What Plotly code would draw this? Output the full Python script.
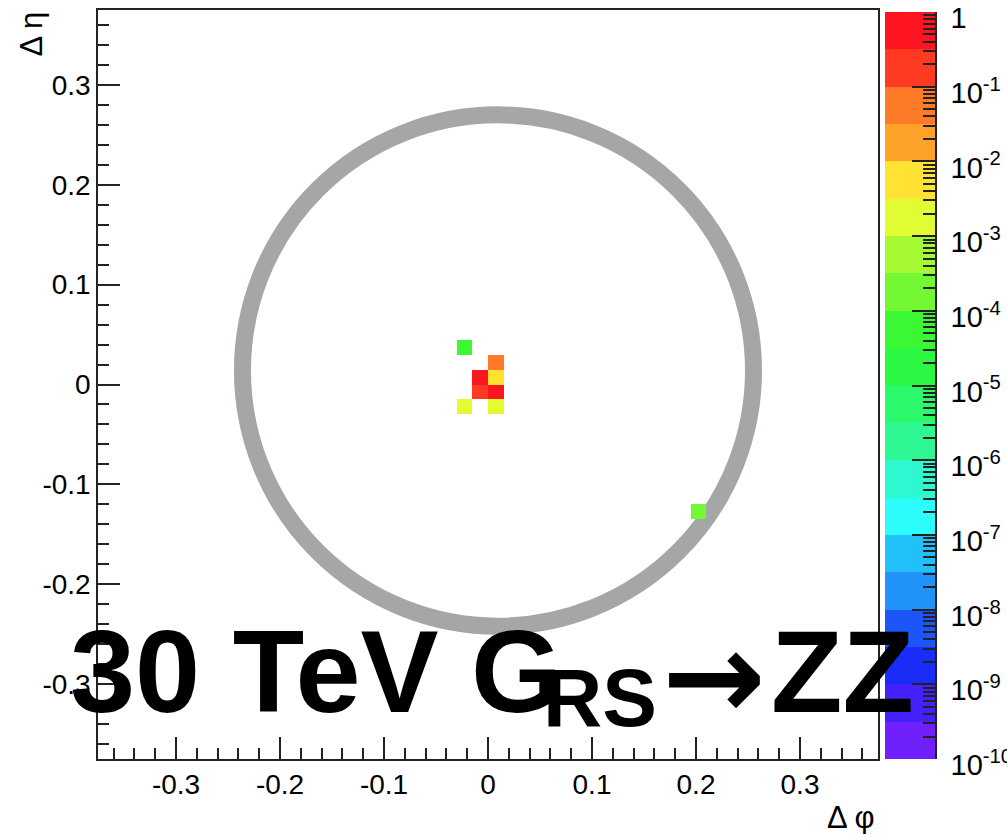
import numpy as np
import plotly.graph_objects as go

# --- histogram definition (Delta phi / Delta eta around the jet axis) ---
BIN_LO, BIN_HI, BIN_W = -0.375, 0.375, 0.015

# filled cells: bin centres and energy fraction
cell_dphi = [-0.0225, 0.0075, -0.0075, 0.0075, -0.0075, 0.0075, -0.0225, 0.0075, 0.2025]
cell_deta = [0.0375, 0.0225, 0.0075, 0.0075, -0.0075, -0.0075, -0.0225, -0.0225, -0.1275]
cell_frac = [6e-5, 0.05, 0.42, 0.006, 0.15, 0.36, 0.0018, 0.0015, 2e-4]

# axis ticks
axis_ticks = [-0.3, -0.2, -0.1, 0.0, 0.1, 0.2, 0.3]
axis_ticktext = ["-0.3", "-0.2", "-0.1", "0", "0.1", "0.2", "0.3"]

# colour scale: 20 half-decade levels from 1e-10 to 1
z_log_min, z_log_max = -10, 0
palette = [
    "#7020fa", "#4420fa", "#1a2cf8", "#1c56f8", "#2094f8",
    "#22c0f8", "#2cfcfc", "#2ef8d0", "#2ef894", "#2cf86c",
    "#2cf844", "#3cf834", "#74f834", "#a6fa34", "#e2fc34",
    "#ffe232", "#ffa22a", "#ff7a26", "#ff3a22", "#ff1421",
]
cbar_exponents = list(range(0, -11, -1))
cbar_ticktext = ["1"] + ["10<sup>%d</sup>" % e for e in cbar_exponents[1:]]

W, H = 1007, 834
FONT = "Liberation Sans, Arial, Helvetica, sans-serif"


def paper_x(px):
    return px / W


def paper_y(py):
    return 1 - py / H


# discrete colorscale
n_lev = len(palette)
colorscale = []
for k, c in enumerate(palette):
    colorscale.append([k / n_lev, c])
    colorscale.append([(k + 1) / n_lev, c])

# fill the 2D histogram grid
edges = np.round(np.arange(BIN_LO, BIN_HI + BIN_W / 2, BIN_W), 6)
nb = len(edges) - 1
grid = np.full((nb, nb), np.nan)
for px, py, f in zip(cell_dphi, cell_deta, cell_frac):
    ix = int(np.floor((px - BIN_LO) / BIN_W))
    iy = int(np.floor((py - BIN_LO) / BIN_W))
    grid[iy, ix] = np.log10(f)

fig = go.Figure()
fig.add_trace(go.Heatmap(
    x=edges, y=edges, z=grid, zmin=z_log_min, zmax=z_log_max,
    colorscale=colorscale, showscale=False, hoverinfo="skip",
    xaxis="x", yaxis="y",
))

# palette bar drawn as its own log axis
band_edges = [10.0 ** (z_log_min + 0.5 * k) for k in range(n_lev + 1)]
band_z = [[z_log_min + 0.5 * k + 0.25] for k in range(n_lev)]
fig.add_trace(go.Heatmap(
    x=[0, 1], y=band_edges, z=band_z, zmin=z_log_min, zmax=z_log_max,
    colorscale=colorscale, showscale=False, hoverinfo="skip",
    xaxis="x2", yaxis="y2",
))

# frame positions
px_l, px_r, px_t, px_b = 98, 878, 10, 759
cb_l, cb_r, cb_t, cb_b = 885, 935, 12, 759

minor_cb = [m * 10.0 ** e for e in range(-10, 0) for m in range(2, 10)]
eps = 1e-4

tick_style = dict(ticks="inside", tickwidth=1.5, tickcolor="#222")
minor_style = dict(ticks="inside", ticklen=11, tickwidth=1.5, tickcolor="#222")

fig.update_layout(
    template="none",
    width=W, height=H, margin=dict(l=0, r=0, t=0, b=0, autoexpand=False),
    paper_bgcolor="white", plot_bgcolor="white",
    font=dict(family=FONT, color="black"),
    showlegend=False,
    xaxis=dict(
        domain=[paper_x(px_l), paper_x(px_r)], range=[BIN_LO, BIN_HI],
        tickvals=axis_ticks, ticktext=axis_ticktext, ticklen=22, **tick_style,
        minor=dict(dtick=0.02, tick0=0, **minor_style),
        showline=True, linecolor="#222", linewidth=1.5, mirror=True,
        showgrid=False, zeroline=False, tickfont=dict(size=28),
        ticklabelstandoff=0, automargin=False, fixedrange=True,
    ),
    yaxis=dict(
        domain=[paper_y(px_b), paper_y(px_t)], range=[BIN_LO, BIN_HI],
        tickvals=axis_ticks, ticktext=axis_ticktext, ticklen=22, **tick_style,
        minor=dict(dtick=0.02, tick0=0, **minor_style),
        showline=True, linecolor="#222", linewidth=1.5, mirror=True,
        showgrid=False, zeroline=False, tickfont=dict(size=28),
        ticklabelstandoff=0, automargin=False, fixedrange=True,
    ),
    xaxis2=dict(
        domain=[paper_x(cb_l), paper_x(cb_r)], range=[0, 1], anchor="y2",
        visible=False, automargin=False, fixedrange=True,
    ),
    yaxis2=dict(
        domain=[paper_y(cb_b), paper_y(cb_t)], type="log",
        range=[z_log_min - eps, z_log_max + eps],
        anchor="x2", side="right",
        tickvals=[10.0 ** e for e in cbar_exponents], ticktext=cbar_ticktext,
        ticklen=23, **tick_style,
        minor=dict(tickvals=minor_cb, ticks="inside", ticklen=12, tickwidth=1.5, tickcolor="#222"),
        showline=True, linecolor="#222", linewidth=1.5,
        showgrid=False, zeroline=False, tickfont=dict(size=29),
        ticklabelstandoff=8, ticklabeloverflow="allow", ticklabelshift=6,
        automargin=False, fixedrange=True,
    ),
)

# jet cone
cone_x, cone_y, cone_rx, cone_ry = 0.0096, 0.014, 0.2457, 0.256
fig.add_shape(
    type="circle", xref="x", yref="y",
    x0=cone_x - cone_rx, x1=cone_x + cone_rx, y0=cone_y - cone_ry, y1=cone_y + cone_ry,
    line=dict(color="#a4a7a6", width=17), layer="below",
)

# axis titles
fig.add_annotation(text="Δ φ", x=paper_x(877), y=paper_y(817), xref="paper", yref="paper",
                   xanchor="right", yanchor="middle", showarrow=False, font=dict(size=31))
fig.add_annotation(text="Δ η", x=paper_x(31), y=paper_y(10), xref="paper", yref="paper",
                   xanchor="center", yanchor="top", textangle=-90, showarrow=False,
                   font=dict(size=31))

# process label
big = dict(family="Liberation Sans, Arial, sans-serif", size=117, color="black")
fig.add_annotation(text="<b>30 TeV G</b>", x=paper_x(68), y=paper_y(671), xref="paper", yref="paper",
                   xanchor="left", yanchor="middle", showarrow=False, font=big)
fig.add_annotation(text="<b>RS</b>", x=paper_x(541), y=paper_y(697), xref="paper", yref="paper",
                   xanchor="left", yanchor="middle", showarrow=False,
                   font=dict(family=big["family"], size=82, color="black"))
fig.add_annotation(text="<b>→</b>", x=paper_x(714), y=paper_y(676), xref="paper", yref="paper",
                   xanchor="center", yanchor="middle", showarrow=False,
                   font=dict(family="DejaVu Sans", size=124, color="black"))
fig.add_annotation(text="<b>ZZ</b>", x=paper_x(769), y=paper_y(671), xref="paper", yref="paper",
                   xanchor="left", yanchor="middle", showarrow=False, font=big)

fig.write_html("out.html")
